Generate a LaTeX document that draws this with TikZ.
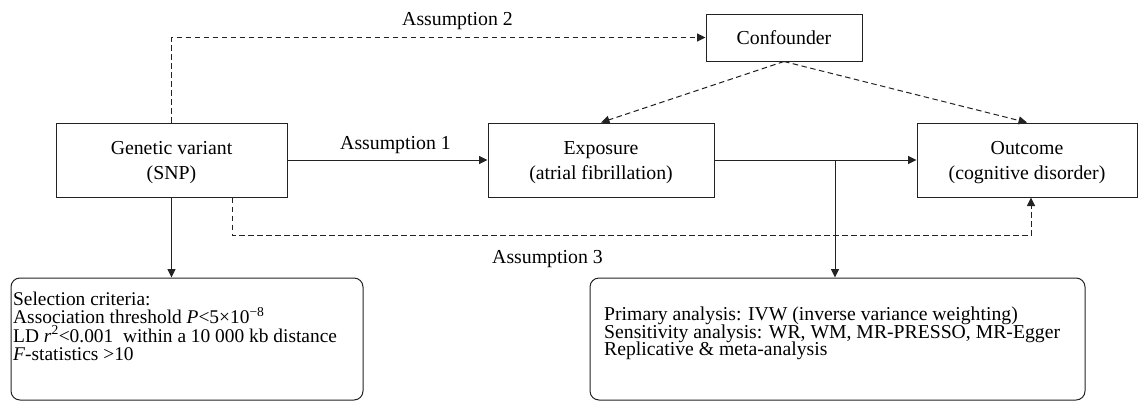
\documentclass[tikz,border=0pt]{standalone}
\usepackage{fontspec}
\setmainfont{Liberation Serif}
\usetikzlibrary{arrows.meta}
\definecolor{linec}{RGB}{35,35,35}
\setlength{\lineskiplimit}{-30pt}
\newcommand{\toppad}{\rule{0pt}{18.7pt}}
\begin{document}
\begin{tikzpicture}[x=1pt,y=-1pt,
  basebox/.style={draw=linec, line width=1pt, inner sep=0pt, align=center, font=\fontsize{19.8}{25}\selectfont},
  roundbox/.style={draw=linec, line width=1pt, rounded corners=9pt, inner sep=0pt},
  solidarrow/.style={draw=linec, line width=1pt, -{Triangle[length=8.5pt,width=8pt]}},
  dasharrow/.style={solidarrow, dash pattern=on 5.5pt off 3.5pt},
  lbl/.style={inner sep=0pt, font=\fontsize{19.8}{25}\selectfont},
  seltextstyle/.style={inner sep=0pt, anchor=west, align=left, font=\fontsize{19.4}{18.4}\selectfont},
  primtextstyle/.style={inner sep=0pt, anchor=west, align=left, font=\fontsize{19.7}{17.6}\selectfont}
]
\useasboundingbox (0,0) rectangle (1139,402);
\fill[white] (0,0) rectangle (1139,402);

\node[basebox, minimum width=231pt, minimum height=74pt] (gen) at (171.5,160) {\toppad Genetic variant\\(SNP)};
\node[basebox, minimum width=156pt, minimum height=47pt] (conf) at (784,37.5) {Confounder};
\node[basebox, minimum width=226pt, minimum height=74pt] (exp) at (601,160) {\toppad Exposure\\(atrial fibrillation)};
\node[basebox, minimum width=220pt, minimum height=74pt] (out) at (1027,160) {\toppad Outcome\\(cognitive disorder)};
\node[roundbox, minimum width=352pt, minimum height=122pt] (sel) at (187,339) {};
\node[roundbox, minimum width=495pt, minimum height=122pt] (prim) at (837.5,339) {};

\node[seltextstyle] (seltext) at (13,326.5) {Selection criteria:\\Association threshold \textit{P}<5×10\textsuperscript{−8}\\LD \textit{r}\textsuperscript{2}<0.001\ \ within a 10 000 kb distance\\\textit{F}-statistics >10};
\node[primtextstyle] (primtext) at (604,333.5) {Primary analysis: IVW (inverse variance weighting)\\Sensitivity analysis: WR, WM, MR-PRESSO, MR-Egger\\Replicative \& meta-analysis};

\node[lbl, anchor=base west] (a1) at (340,149) {Assumption 1};
\node[lbl, anchor=base west] (a2) at (402,25) {Assumption 2};
\node[lbl, anchor=base west] (a3) at (492,263) {Assumption 3};

\draw[solidarrow] (gen.east) -- (exp.west);
\draw[solidarrow] (exp.east) -- (out.west);
\coordinate (br) at (835,160);
\draw[solidarrow] (br) -- (br |- prim.north);
\draw[solidarrow] (gen.south) -- (gen.south |- sel.north);
\draw[dasharrow] (gen.north) -- (gen.north |- conf.west) -- (conf.west);
\draw[dasharrow] (conf.south) -- (exp.north);
\draw[dasharrow] (conf.south) -- (out.north);
\draw[dasharrow] ([xshift=60.5pt]gen.south) -- ++(0,38) -| ([xshift=4pt]out.south);
\end{tikzpicture}
\end{document}
